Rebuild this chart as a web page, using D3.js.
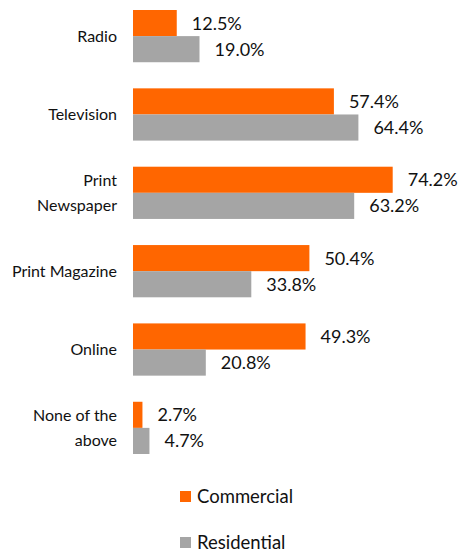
<!DOCTYPE html>
<html>
<head>
<meta charset="utf-8">
<script src="https://cdn.jsdelivr.net/npm/d3@7"></script>
<style>
  html, body { margin: 0; padding: 0; background: #fff; }
  svg { display: block; }
  text { font-family: Lato, "Open Sans", sans-serif; fill: #111; }
</style>
</head>
<body>
<svg id="chart" width="460" height="550"></svg>
<script>
// Media channels surveyed, top to bottom
const categories = ["Radio", "Television", "Print Newspaper", "Print Magazine", "Online", "None of the above"];
// Display labels (wrapped onto lines)
const categoryLines = [["Radio"], ["Television"], ["Print", "Newspaper"], ["Print Magazine"], ["Online"], ["None of the", "above"]];
const seriesNames = ["Commercial", "Residential"];
const commercial = [12.5, 57.4, 74.2, 50.4, 49.3, 2.7];
const residential = [19.0, 64.4, 63.2, 33.8, 20.8, 4.7];
const seriesColors = ["#FF6600", "#A5A5A5"];

const svg = d3.select("#chart");

const x = d3.scaleLinear().domain([0, 100]).range([133, 483]);
const yBand = d3.scaleBand().domain(categories).range([10, 454]).paddingInner(1 / 3).paddingOuter(0);
const ySeries = d3.scaleBand().domain(seriesNames).range([0, yBand.bandwidth()]);

const rows = categories.map((c, i) => ({ cat: c, lines: categoryLines[i], values: [commercial[i], residential[i]] }));

const groups = svg.selectAll("g.row").data(rows).join("g")
  .attr("class", "row")
  .attr("transform", d => `translate(0,${yBand(d.cat)})`);

groups.selectAll("rect").data(d => d.values.map((v, k) => ({ v, k })))
  .join("rect")
  .attr("x", x(0))
  .attr("y", d => ySeries(seriesNames[d.k]))
  .attr("width", d => x(d.v) - x(0))
  .attr("height", ySeries.bandwidth())
  .attr("fill", d => seriesColors[d.k]);

groups.selectAll("text.val").data(d => d.values.map((v, k) => ({ v, k })))
  .join("text")
  .attr("class", "val")
  .attr("x", d => x(d.v) + 15)
  .attr("y", d => ySeries(seriesNames[d.k]) + ySeries.bandwidth() / 2)
  .attr("dy", "0.36em")
  .style("font-size", "18px")
  .text(d => d.v.toFixed(1) + "%");

// Category labels, right aligned left of the bars
groups.append("text")
  .attr("class", "cat")
  .attr("text-anchor", "end")
  .style("font-size", "16px")
  .attr("x", 117)
  .attr("y", yBand.bandwidth() / 2)
  .selectAll("tspan").data(d => d.lines.map((t, j) => ({ t, j, n: d.lines.length })))
  .join("tspan")
  .attr("x", 117)
  .attr("dy", d => d.j === 0 ? `${0.36 - (d.n - 1) * 0.8}em` : "1.6em")
  .text(d => d.t);

// Legend
const legend = svg.append("g").selectAll("g").data(seriesNames).join("g")
  .attr("transform", (d, i) => `translate(180,${491 + i * 46})`);
legend.append("rect").attr("width", 11).attr("height", 11).attr("fill", (d, i) => seriesColors[i]);
legend.append("text").attr("x", 17).attr("y", 5.5).attr("dy", "0.36em")
  .style("font-size", "18.5px").text(d => d);
</script>
</body>
</html>
